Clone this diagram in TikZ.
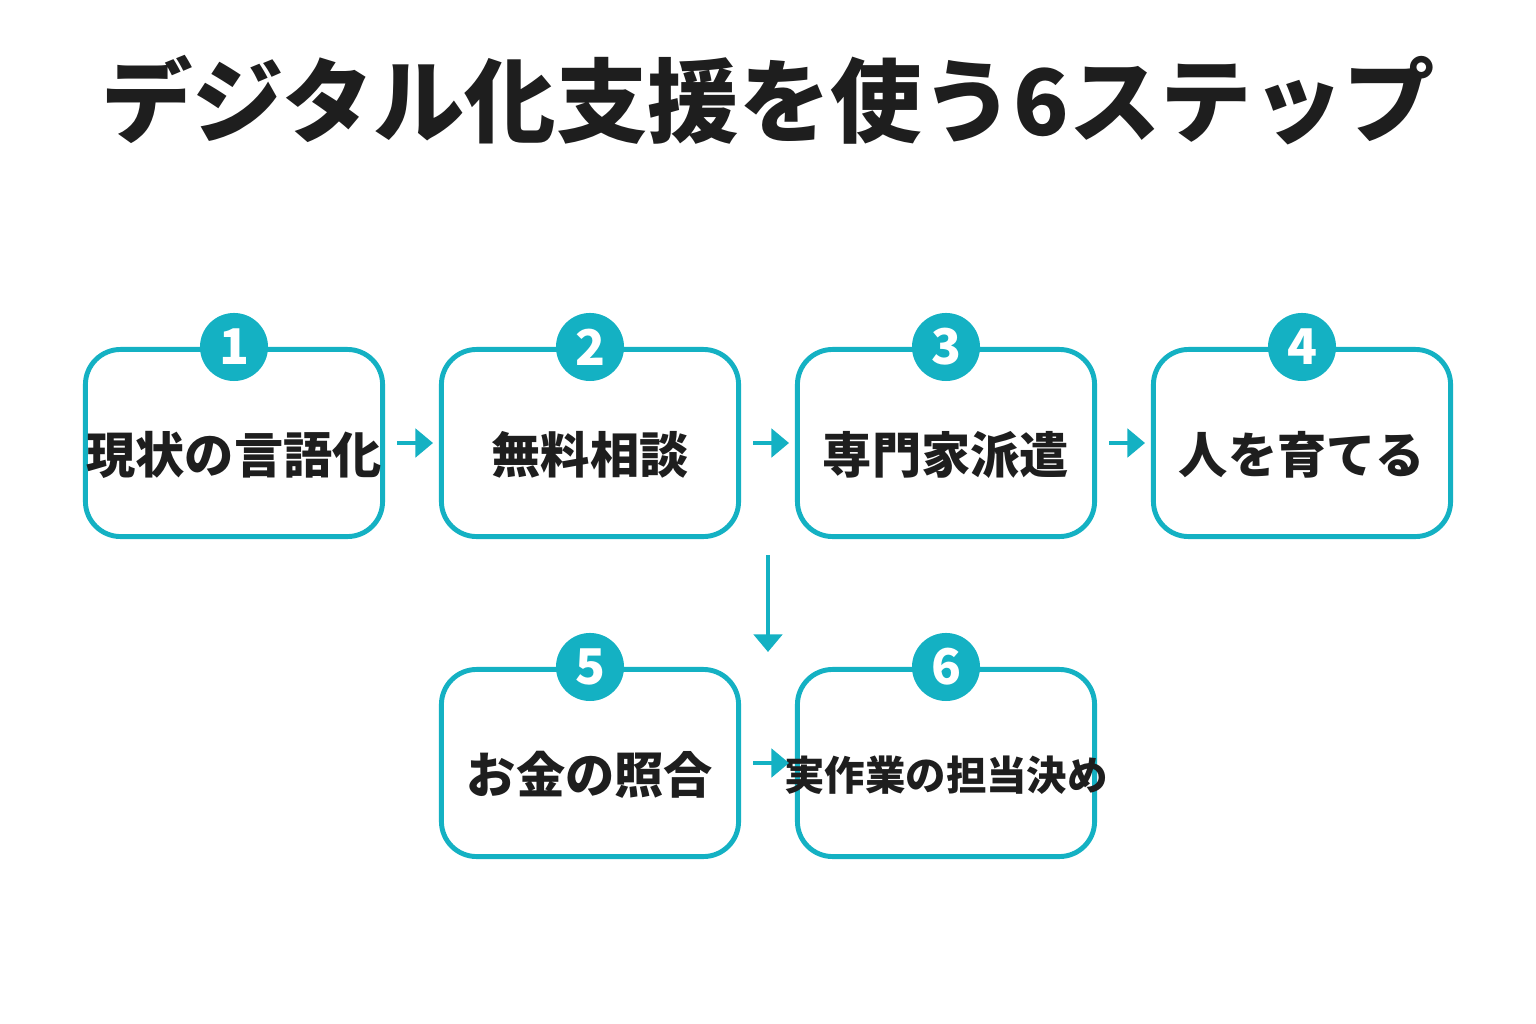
\documentclass[tikz,border=0pt]{standalone}
\usepackage{fontspec}
\newfontfamily\cjk{Noto Sans CJK JP}
\usetikzlibrary{arrows.meta}
\definecolor{stepteal}{RGB}{20,177,195}
\definecolor{inkdark}{RGB}{30,30,30}
\begin{document}
\begin{tikzpicture}[x=0.01cm, y=-0.01cm]
    \tikzstyle{stepbox} = [rectangle, rounded corners=10pt, minimum width=2.97cm, minimum height=1.87cm, draw=stepteal, line width=1.4pt, fill=white]
    \tikzstyle{steptext} = [font=\cjk\bfseries\fontsize{14}{16}\selectfont, text=inkdark]
    \tikzstyle{badge} = [circle, fill=stepteal, minimum size=0.68cm, inner sep=0pt, text=white, font=\cjk\bfseries\fontsize{14}{16}\selectfont]
    \tikzstyle{flow} = [-{Triangle[length=5pt,width=8pt]}, draw=stepteal, line width=1.4pt]

    \useasboundingbox (0,0) rectangle (1536,1024);

    % Title
    \node [font=\cjk\bfseries\fontsize{26}{30}\selectfont, text=inkdark] (title) at (768,100) {デジタル化支援を使う6ステップ};

    % Steps
    \node [stepbox] (s1) at (234,443) {};
    \node [stepbox] (s2) at (590,443) {};
    \node [stepbox] (s3) at (946,443) {};
    \node [stepbox] (s4) at (1302,443) {};
    \node [stepbox] (s5) at (590,763) {};
    \node [stepbox] (s6) at (946,763) {};

    \node [steptext] (t1) at (234,455) {現状の言語化};
    \node [steptext] (t2) at (590,455) {無料相談};
    \node [steptext] (t3) at (946,455) {専門家派遣};
    \node [steptext] (t4) at (1302,455) {人を育てる};
    \node [steptext] (t5) at (590,775) {お金の照合};
    \node [steptext, font=\cjk\bfseries\fontsize{11.5}{14}\selectfont] (t6) at (946,775) {実作業の担当決め};

    \foreach \n in {1,...,6}
        \node [badge] (b\n) at (s\n.north) {\n};

    % Arrows
    \coordinate (downtop) at (768,555);
    \coordinate (downend) at (768,652);
    \draw [flow] (s1.east) ++(12,0) -- ++(36,0);
    \draw [flow] (s2.east) ++(12,0) -- ++(36,0);
    \draw [flow] (s3.east) ++(12,0) -- ++(36,0);
    \draw [flow] (s5.east) ++(12,0) -- ++(36,0);
    \draw [flow] (downtop) -- (downend);
\end{tikzpicture}
\end{document}
